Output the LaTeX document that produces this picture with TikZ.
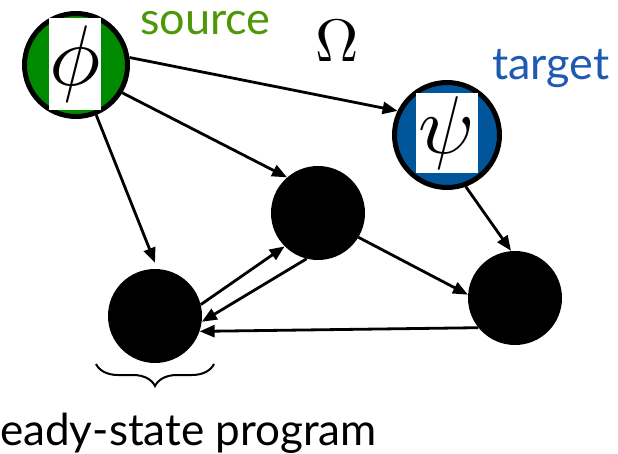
\documentclass[tikz,border=0pt]{standalone}
\usepackage{graphicx}
\usepackage{fontspec}
\setmainfont{Lato}
\usetikzlibrary{arrows.meta,decorations.pathreplacing}
\definecolor{srcgreen}{RGB}{78,152,8}
\definecolor{fillgreen}{RGB}{0,138,0}
\definecolor{fillblue}{RGB}{0,85,155}
\definecolor{tgtblue}{RGB}{30,90,178}
\tikzset{
  endpt/.style={circle, draw=black, line width=5pt, inner sep=0pt},
  statept/.style={circle, fill=black, inner sep=0pt, minimum size=94pt},
  letterbox/.style={fill=white, inner sep=0pt},
  arr/.style={line width=2.8pt, -{Triangle[length=15pt,width=12pt]}},
  lbl/.style={inner sep=0pt, font=\fontsize{45}{45}\selectfont}
}
\begin{document}
\begin{tikzpicture}[x=1pt,y=-1pt]
\useasboundingbox (0,0) rectangle (618,454);
% endpoint circles
\node[endpt, fill=fillgreen, minimum size=103pt] (src) at (76,65) {};
\node[letterbox, minimum width=50pt, minimum height=92pt] (phib) at (75,64) {\scalebox{8.6}{$\phi$}};
\node[endpt, fill=fillblue, minimum size=105pt] (tgt) at (447,135) {};
\node[letterbox, minimum width=62pt, minimum height=80pt] (psib) at (447,133) {\scalebox{8.2}{$\psi$}};
% state circles
\node[statept] (mid) at (318,213) {};
\node[statept] (bl) at (155,316) {};
\node[statept] (br) at (515,298) {};
% labels
\node[lbl, text=srcgreen, anchor=base west] (srclbl) at (140,35) {source};
\node[lbl, text=tgtblue, anchor=base west] (tgtlbl) at (492,80) {target};
\node[inner sep=0pt, anchor=base] (om) at (337,62) {\scalebox{6}{$\Omega$}};
\node[lbl, anchor=base west, font=\fontsize{44}{44}\selectfont] (steady) at (0,445) {eady-state program};
% connectors
\draw[arr] (src.8) -- (tgt.154);
\draw[arr] (src.-31) -- (mid.131);
\draw[arr] (src.-68) -- ([yshift=6pt]bl.north);
\draw[arr] (tgt.-70) -- ([xshift=-4pt]br.north);
\draw[arr] (mid.-31.5) -- (br.176);
\draw[arr] (br.-141) -- (bl.-19.6);
\draw[arr] (bl.14) -- (mid.-135);
\draw[arr] (mid.-104) -- (bl.-7.5);
% brace
\draw[line width=2pt, decorate, decoration={brace, mirror, amplitude=22pt}] (96,364) -- (214,364);
\end{tikzpicture}
\end{document}
